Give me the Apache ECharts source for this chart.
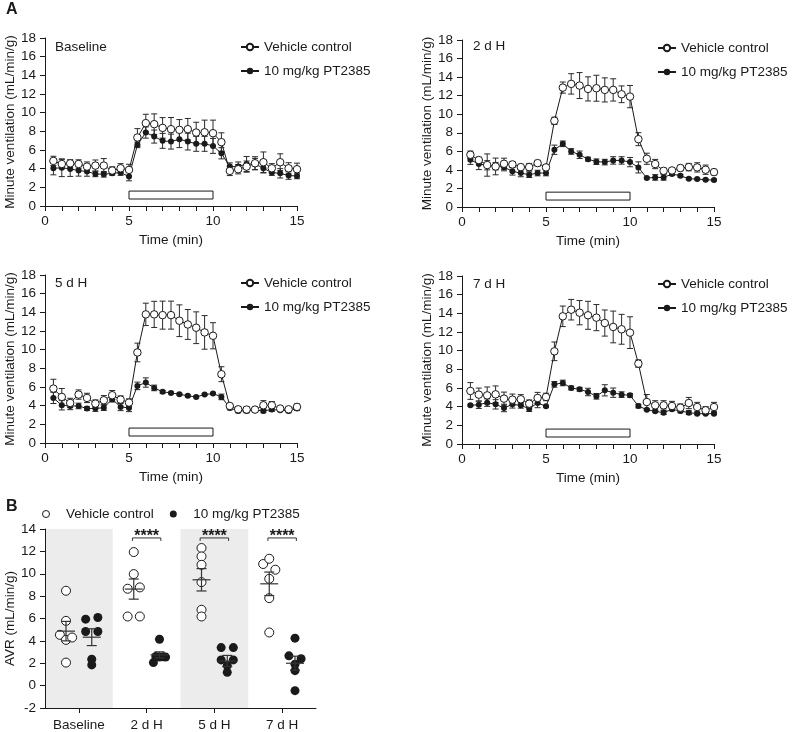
<!DOCTYPE html>
<html><head><meta charset="utf-8">
<script src="https://cdn.jsdelivr.net/npm/echarts@6/dist/echarts.min.js"></script>
<style>html,body{margin:0;padding:0;background:#fff}#c{width:799px;height:732px}</style>
</head><body><div id="c"></div>
<script>
// ---------- DATA ----------
const times = [0.5,1,1.5,2,2.5,3,3.5,4,4.5,5,5.5,6,6.5,7,7.5,8,8.5,9,9.5,10,10.5,11,11.5,12,12.5,13,13.5,14,14.5,15];
const panelNames = ['Baseline','2 d H','5 d H','7 d H'];
const hypoxiaWindow = [5, 10];

const vehBaseline = [4.83,4.5,4.57,4.5,4.22,4.33,4.33,3.8,4.04,3.87,7.34,8.88,8.77,8.37,8.23,8.16,8.23,7.87,7.9,7.8,6.84,3.76,3.94,4.22,4.58,4.69,4.04,4.69,4.04,3.94];
const vehBaselineSem = [0.5,0.5,0.4,0.45,0.5,0.6,0.75,0.4,0.5,0.6,0.95,0.95,1.1,1.1,1.25,1.1,1.15,1.1,1.3,1.4,1.0,0.5,0.5,0.6,0.7,1.1,0.5,0.9,0.6,0.65];
const ptBaseline = [4.04,4.1,3.97,3.8,3.69,3.44,3.4,3.5,3.58,3.15,6.55,7.87,7.44,6.98,6.9,7.16,6.9,6.66,6.66,6.44,5.65,4.22,4.22,4.5,4.5,4.04,3.58,3.5,3.26,3.22];
const ptBaselineSem = [0.7,0.95,0.8,0.6,0.5,0.3,0.3,0.2,0.3,0.45,0.3,0.6,0.7,0.8,0.8,0.9,0.9,0.8,0.8,0.8,0.6,0.4,0.5,0.8,0.6,0.5,0.3,0.5,0.4,0.3];

const veh2dH = [5.63,5.06,4.52,4.37,4.66,4.59,4.3,4.3,4.73,4.27,9.29,12.87,13.27,13.09,12.73,12.8,12.62,12.62,12.15,11.9,7.31,5.2,4.63,3.9,3.94,4.2,4.3,4.27,4.02,3.76];
const veh2dHSem = [0.4,0.3,1.2,0.9,0.6,0.3,0.3,0.4,0.3,0.3,0.4,0.6,1.1,1.4,1.3,1.4,1.3,1.2,0.9,1.2,0.7,0.6,0.5,0.3,0.2,0.3,0.4,0.5,0.5,0.3];
const pt2dH = [5.09,4.63,4.5,4.4,4.3,3.84,3.66,3.48,3.66,3.66,6.17,6.81,5.99,5.63,5.16,4.88,4.84,5.02,5.02,4.84,4.27,3.12,3.19,3.19,3.55,3.37,3.05,3.01,2.94,2.9];
const pt2dHSem = [0.5,0.6,0.5,0.4,0.4,0.4,0.4,0.3,0.3,0.3,0.5,0.3,0.3,0.4,0.2,0.3,0.3,0.4,0.4,0.5,0.6,0.1,0.3,0.3,0.15,0.15,0.1,0.1,0.1,0.1];

const veh5dH = [5.83,4.94,4.29,5.19,4.83,4.22,4.58,5.12,4.65,4.33,9.7,13.78,13.78,13.7,13.7,13.1,12.7,12.35,11.85,11.49,7.37,3.97,3.61,3.58,3.58,4.04,4.04,3.69,3.61,3.87];
const veh5dHSem = [1.0,0.9,0.5,0.5,0.5,0.4,0.5,0.5,0.4,0.4,1.0,1.2,1.4,1.5,1.5,1.7,1.6,1.7,1.8,1.4,0.8,0.2,0.3,0.3,0.3,0.5,0.4,0.2,0.2,0.3];
const pt5dH = [4.83,4.04,3.97,3.97,3.69,3.69,3.79,4.69,3.87,3.76,6.12,6.48,5.9,5.48,5.37,5.23,5.05,4.94,5.19,5.3,4.94,3.76,3.44,3.44,3.51,3.44,3.58,3.51,3.44,3.69];
const pt5dHSem = [0.6,0.5,0.4,0.3,0.2,0.3,0.3,0.3,0.4,0.4,0.4,0.5,0.3,0.15,0.1,0.1,0.1,0.1,0.1,0.1,0.3,0.2,0.2,0.2,0.1,0.2,0.2,0.1,0.2,0.2];

const veh7dH = [5.68,5.29,5.21,5.32,4.86,4.75,4.79,4.32,4.93,5.04,9.93,13.68,14.39,14.07,13.79,13.54,12.96,12.54,12.29,11.93,8.61,4.5,4.14,4.14,4.07,3.89,4.39,3.96,3.61,3.96];
const veh7dHSem = [0.9,0.7,0.9,0.9,0.7,0.6,0.5,0.4,0.6,0.4,1.0,1.1,1.1,1.3,1.5,1.4,1.4,1.7,1.6,1.7,0.4,0.8,0.5,0.5,0.5,0.4,0.6,0.5,0.4,0.5];
const pt7dH = [4.14,4.21,4.43,4.25,3.86,4.25,4.14,3.79,4.39,4.04,6.39,6.54,6.0,5.86,5.57,5.11,5.75,5.5,5.29,5.21,4.07,3.68,3.5,3.36,3.71,3.54,3.36,3.25,3.25,3.25];
const pt7dHSem = [0.1,0.4,0.4,0.5,0.4,0.4,0.3,0.3,0.5,0.1,0.3,0.3,0.2,0.2,0.4,0.3,0.6,0.5,0.3,0.2,0.2,0.1,0.1,0.2,0.1,0.2,0.2,0.1,0.1,0.1];

// Panel B: AVR individual values (mL/min/g)
const avrVehicle = [
  [8.48,5.79,4.54,4.09,4.30,2.06],
  [11.94,9.97,8.66,8.78,6.18,6.18],
  [12.3,11.55,10.8,9.25,6.78,6.18],
  [10.87,11.34,10.36,9.55,7.82,4.75]
];
const avrPT = [
  [5.94,6.09,4.84,4.84,2.36,1.85],
  [4.15,2.06,2.6,2.55,2.57,2.55],
  [3.4,3.4,2.3,2.3,1.79,1.19],
  [4.24,2.66,2.4,1.91,1.34,-0.45]
];
const avrVehicleMean = [4.87,8.63,9.46,9.10];
const avrVehicleSem  = [0.87,0.90,1.00,1.05];
const avrPTMean = [4.33,2.75,2.20,2.00];
const avrPTSem  = [0.75,0.27,0.50,0.63];
const significance = ['', '****', '****', '****'];
const shadedGroups = ['Baseline','5 d H'];
// horizontal jitter lanes of the dots inside each group (-1, 0, +1)
const jitterVehicle = [[0,0,-1,0,1,0],[0,0,-1,1,-1,1],[0,0,0,0,0,0],[-1,0,1,0,0,0]];
const jitterPT = [[-1,1,-1,1,0,0],[0,-1,-0.6,0,0.6,1],[-1,1,-1,1,0,0],[0,-1,1,0,0,0]];

// ---------- CHART ----------
const FONT = 'Liberation Sans, Arial, Helvetica, sans-serif';
const INK = '#1a1a1a';
const vehSeries = [vehBaseline, veh2dH, veh5dH, veh7dH];
const vehSemSeries = [vehBaselineSem, veh2dHSem, veh5dHSem, veh7dHSem];
const ptSeries = [ptBaseline, pt2dH, pt5dH, pt7dH];
const ptSemSeries = [ptBaselineSem, pt2dHSem, pt5dHSem, pt7dHSem];

const grids = [
  {left:45, top:38, width:252, height:168},
  {left:462, top:40, width:252, height:167},
  {left:45, top:275, width:252, height:168},
  {left:462, top:276, width:252, height:168},
  {left:45, top:529, width:271, height:179}
];
const legendPos = [[240,40],[657,41],[240,276],[657,277]];
const titlePos = [[55,40],[473,39],[55,276],[473,277]];

function errRender(cap, color){
  return function(params, api){
    const x = api.value(0), m = api.value(1), s = api.value(2);
    const a = api.coord([x, m + s]), b = api.coord([x, m - s]);
    const st = {stroke: color, lineWidth: 1, fill: null};
    return {type:'group', children:[
      {type:'line', shape:{x1:a[0], y1:a[1], x2:b[0], y2:b[1]}, style:st},
      {type:'line', shape:{x1:a[0]-cap, y1:a[1], x2:a[0]+cap, y2:a[1]}, style:st},
      {type:'line', shape:{x1:b[0]-cap, y1:b[1], x2:b[0]+cap, y2:b[1]}, style:st}
    ]};
  };
}

const axisCommon = {
  axisLine:{show:true, onZero:false, lineStyle:{color:INK, width:1}},
  axisTick:{show:true, length:5, lineStyle:{color:INK, width:1}},
  splitLine:{show:false},
  nameTextStyle:{color:INK, fontSize:13.5, fontFamily:FONT},
};
const labelCommon = {color:INK, fontSize:13.5, fontFamily:FONT};

const xAxes = [], yAxes = [], series = [], legends = [], titles = [];

titles.push({text:'A', left:6, top:2, padding:0, textStyle:{fontSize:16, fontWeight:'bold', color:INK, fontFamily:FONT}});
titles.push({text:'B', left:6, top:499, padding:0, textStyle:{fontSize:16, fontWeight:'bold', color:INK, fontFamily:FONT}});

for (let i = 0; i < 4; i++) {
  xAxes.push(Object.assign({}, axisCommon, {
    type:'value', gridIndex:i, min:0, max:15, interval:1,
    axisLabel:Object.assign({}, labelCommon, {margin:8, formatter: v => (v % 5 === 0 ? String(v) : '')}),
    name:'Time (min)', nameLocation:'middle', nameGap:27
  }));
  yAxes.push(Object.assign({}, axisCommon, {
    type:'value', gridIndex:i, min:0, max:18, interval:2,
    axisLabel:Object.assign({}, labelCommon, {margin:9}),
    name:'Minute ventilation (mL/min/g)', nameLocation:'middle', nameGap:27, nameRotate:90
  }));
  series.push({
    type:'custom', name:'pt-err-'+i, xAxisIndex:i, yAxisIndex:i, silent:true, z:2,
    renderItem: errRender(3, '#2a2a2a'),
    encode:{x:0, y:1},
    data: times.map((t,k) => [t, ptSeries[i][k], ptSemSeries[i][k]])
  });
  series.push({
    type:'custom', name:'veh-err-'+i, xAxisIndex:i, yAxisIndex:i, silent:true, z:2,
    renderItem: errRender(3, '#2a2a2a'),
    encode:{x:0, y:1},
    data: times.map((t,k) => [t, vehSeries[i][k], vehSemSeries[i][k]])
  });
  series.push({
    type:'line', name:'10 mg/kg PT2385', xAxisIndex:i, yAxisIndex:i, z:3,
    symbol:'circle', symbolSize:6, showAllSymbol:true, animation:false,
    itemStyle:{color:INK}, lineStyle:{color:INK, width:1},
    data: times.map((t,k) => [t, ptSeries[i][k]])
  });
  series.push({
    type:'line', name:'Vehicle control', xAxisIndex:i, yAxisIndex:i, z:4,
    symbol:'circle', symbolSize:7.5, showAllSymbol:true, animation:false,
    itemStyle:{color:'#fff', borderColor:INK, borderWidth:1}, lineStyle:{color:INK, width:1},
    data: times.map((t,k) => [t, vehSeries[i][k]]),
    markArea:{silent:true, itemStyle:{color:'#fff', borderColor:INK, borderWidth:1},
      data:[[{xAxis:hypoxiaWindow[0], yAxis:0.75},{xAxis:hypoxiaWindow[1], yAxis:1.6}]]}
  });
  legends.push({
    data:['Vehicle control','10 mg/kg PT2385'], orient:'vertical',
    left:legendPos[i][0], top:legendPos[i][1], padding:0,
    itemWidth:18, itemHeight:8, itemGap:10, selectedMode:false,
    textStyle:{color:INK, fontSize:13.5, fontFamily:FONT}
  });
  titles.push({text:panelNames[i], left:titlePos[i][0], top:titlePos[i][1], padding:0,
    textStyle:{fontSize:13.5, fontWeight:'normal', color:INK, fontFamily:FONT}});
}

// ---------- Panel B ----------
const yMinB = -2, yMaxB = 14;
xAxes.push(Object.assign({}, axisCommon, {
  type:'category', gridIndex:4, data:panelNames, boundaryGap:true,
  axisTick:{show:true, length:5, alignWithLabel:true, lineStyle:{color:INK}},
  axisLabel:Object.assign({}, labelCommon, {margin:10, interval:0})
}));
xAxes.push({type:'value', gridIndex:4, min:0, max:4, show:false});
yAxes.push(Object.assign({}, axisCommon, {
  type:'value', gridIndex:4, min:yMinB, max:yMaxB, interval:2,
  axisLabel:Object.assign({}, labelCommon, {margin:9}),
  name:'AVR (mL/min/g)', nameLocation:'middle', nameGap:28, nameRotate:90
}));

const GROUP_OFF = 0.19, JIT = 0.09;
series.push({
  type:'custom', name:'bands', xAxisIndex:5, yAxisIndex:4, silent:true, z:0,
  encode:{x:0},
  data: shadedGroups.map(n => [panelNames.indexOf(n)]),
  renderItem:(p, api) => {
    const i = api.value(0);
    const a = api.coord([i, yMaxB]), b = api.coord([i + 1, yMinB]);
    return {type:'rect', shape:{x:a[0], y:a[1], width:b[0]-a[0], height:b[1]-a[1]}, style:{fill:'#ececec'}};
  }
});
const vehPts = [], ptPts = [];
avrVehicle.forEach((g, gi) => g.forEach((v, k) => vehPts.push([gi + 0.5 - GROUP_OFF + jitterVehicle[gi][k]*JIT, v])));
avrPT.forEach((g, gi) => g.forEach((v, k) => ptPts.push([gi + 0.5 + GROUP_OFF + jitterPT[gi][k]*JIT, v])));

series.push({
  type:'scatter', name:'B:Vehicle control', xAxisIndex:5, yAxisIndex:4, z:3,
  symbol:'circle', symbolSize:9, animation:false,
  itemStyle:{color:'#fff', borderColor:INK, borderWidth:1, opacity:1},
  data: vehPts
});
series.push({
  type:'scatter', name:'B:10 mg/kg PT2385', xAxisIndex:5, yAxisIndex:4, z:3,
  symbol:'circle', symbolSize:9, animation:false,
  itemStyle:{color:INK, opacity:1},
  data: ptPts
});
const meanData = [];
panelNames.forEach((n, gi) => {
  meanData.push([gi + 0.5 - GROUP_OFF, avrVehicleMean[gi], avrVehicleSem[gi]]);
  meanData.push([gi + 0.5 + GROUP_OFF, avrPTMean[gi], avrPTSem[gi]]);
});
series.push({
  type:'custom', name:'meanSem', xAxisIndex:5, yAxisIndex:4, silent:true, z:5,
  encode:{x:0, y:1}, data: meanData,
  renderItem:(p, api) => {
    const x = api.value(0), m = api.value(1), s = api.value(2);
    const c = api.coord([x, m]), a = api.coord([x, m + s]), b = api.coord([x, m - s]);
    const st = {stroke:'#333', lineWidth:1.2};
    return {type:'group', children:[
      {type:'line', shape:{x1:c[0]-9, y1:c[1], x2:c[0]+9, y2:c[1]}, style:st},
      {type:'line', shape:{x1:a[0], y1:a[1], x2:b[0], y2:b[1]}, style:st},
      {type:'line', shape:{x1:a[0]-5, y1:a[1], x2:a[0]+5, y2:a[1]}, style:st},
      {type:'line', shape:{x1:b[0]-5, y1:b[1], x2:b[0]+5, y2:b[1]}, style:st}
    ]};
  }
});
const bracketY = 13.2;
series.push({
  type:'custom', name:'sig', xAxisIndex:5, yAxisIndex:4, silent:true, z:5,
  encode:{x:0},
  data: significance.map((s, gi) => [gi, s]).filter(d => d[1] !== ''),
  renderItem:(p, api) => {
    const gi = api.value(0);
    const txt = significance[gi];
    const a = api.coord([gi + 0.5 - GROUP_OFF - 0.02, bracketY]);
    const b = api.coord([gi + 0.5 + GROUP_OFF + 0.02, bracketY]);
    const st = {stroke:'#333', lineWidth:1};
    return {type:'group', children:[
      {type:'line', shape:{x1:a[0], y1:a[1], x2:b[0], y2:b[1]}, style:st},
      {type:'line', shape:{x1:a[0], y1:a[1], x2:a[0], y2:a[1]+3}, style:st},
      {type:'line', shape:{x1:b[0], y1:b[1], x2:b[0], y2:b[1]+3}, style:st},
      {type:'text', style:{text:txt, x:(a[0]+b[0])/2, y:a[1]-1, align:'center', verticalAlign:'middle',
        fill:INK, font:'bold 16px ' + FONT}}
    ]};
  }
});
legends.push({
  data:[{name:'B:Vehicle control', itemStyle:{borderWidth:1}}, {name:'B:10 mg/kg PT2385'}], orient:'horizontal',
  left:42, top:507, padding:0, itemWidth:30, itemHeight:7, itemGap:16, selectedMode:false,
  formatter: n => n.replace('B:', ''),
  textStyle:{color:INK, fontSize:13.5, fontFamily:FONT}
});

const chart = echarts.init(document.getElementById('c'), null, {renderer:'canvas'});
chart.setOption({
  backgroundColor:'#fff',
  animation:false,
  title: titles,
  legend: legends,
  grid: grids,
  xAxis: xAxes,
  yAxis: yAxes,
  series: series
});
</script>
</body></html>
